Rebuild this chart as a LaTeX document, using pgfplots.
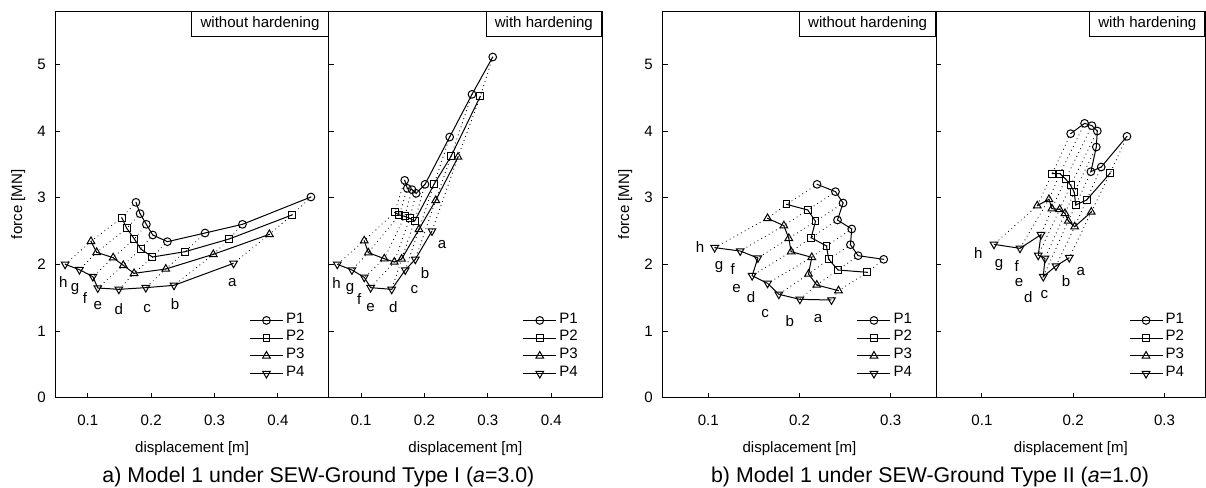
\documentclass[border=0pt]{standalone}
\usepackage{fontspec}
\setmainfont{Liberation Sans}
\usepackage{pgfplots}
\pgfplotsset{compat=1.18}
\usepackage{pgfplotstable}

\newcommand{\tf}{\fontsize{11.3pt}{13pt}\selectfont}
\newcommand{\capf}{\fontsize{16pt}{19pt}\selectfont}

% rows a..h ; columns P1..P4
\pgfplotstableread{
x1 y1 x2 y2 x3 y3 x4 y4
0.452 3.01 0.422 2.74 0.3865 2.45 0.330 2.015
0.344 2.60 0.323 2.38 0.298 2.15 0.236 1.685
0.285 2.47 0.2535 2.19 0.223 1.93 0.1915 1.65
0.2256 2.34 0.202 2.11 0.173 1.865 0.149 1.625
0.2025 2.44 0.1836 2.23 0.156 1.985 0.1158 1.645
0.1924 2.60 0.1735 2.38 0.140 2.10 0.108 1.815
0.1825 2.76 0.1615 2.54 0.114 2.18 0.0868 1.92
0.176 2.93 0.1536 2.70 0.105 2.345 0.0642 2.0
}\dataAL
\pgfplotstableread{
x y l
0.328 1.725 a
0.2377 1.405 b
0.1935 1.335 c
0.149 1.335 d
0.116 1.375 e
0.0957 1.49 f
0.080 1.625 g
0.0615 1.74 h
}\labAL

\pgfplotstableread{
x1 y1 x2 y2 x3 y3 x4 y4
0.3077 5.11 0.2881 4.52 0.253 3.61 0.2119 2.50
0.275 4.55 0.2419 3.62 0.2178 2.96 0.1856 2.075
0.2398 3.91 0.2151 3.20 0.1914 2.525 0.1698 1.915
0.2009 3.20 0.1846 2.65 0.164 2.08 0.1484 1.625
0.187 3.065 0.1768 2.69 0.1525 2.035 0.1152 1.65
0.1804 3.12 0.1689 2.72 0.1367 2.085 0.1051 1.805
0.173 3.14 0.1604 2.74 0.1115 2.175 0.0857 1.915
0.1689 3.26 0.1531 2.78 0.1051 2.355 0.0626 2.0
}\dataAR
\pgfplotstableread{
x y l
0.2277 2.29 a
0.2009 1.875 b
0.184 1.615 c
0.1509 1.355 d
0.1152 1.355 e
0.0973 1.475 f
0.0826 1.625 g
0.0616 1.725 h
}\labAR

\pgfplotstableread{
x1 y1 x2 y2 x3 y3 x4 y4
0.2924 2.075 0.2745 1.88 0.2428 1.605 0.2351 1.465
0.2643 2.13 0.2423 1.915 0.219 1.69 0.2004 1.475
0.2559 2.295 0.2321 2.075 0.2099 1.855 0.1774 1.55
0.2573 2.53 0.2296 2.275 0.2135 2.105 0.165 1.715
0.2417 2.665 0.2128 2.40 0.1909 2.19 0.1481 1.83
0.2478 2.92 0.2176 2.645 0.1883 2.39 0.1544 2.095
0.2395 3.09 0.2091 2.815 0.1829 2.58 0.135 2.20
0.2193 3.20 0.1858 2.90 0.165 2.69 0.107 2.25
}\dataBL
\pgfplotstableread{
x y l
0.2204 1.19 a
0.1894 1.155 b
0.1624 1.265 c
0.147 1.515 d
0.131 1.64 e
0.1267 1.935 f
0.1117 1.965 g
0.0909 2.265 h
}\labBL

\pgfplotstableread{
x1 y1 x2 y2 x3 y3 x4 y4
0.2589 3.92 0.2406 3.37 0.2198 2.785 0.1957 2.10
0.2307 3.46 0.2147 2.965 0.2016 2.565 0.1811 1.975
0.2194 3.39 0.2027 2.89 0.1946 2.65 0.1672 1.815
0.2253 3.76 0.2012 3.08 0.191 2.765 0.1691 2.09
0.2264 4.00 0.1972 3.185 0.1852 2.825 0.1617 2.135
0.2205 4.08 0.1917 3.28 0.1767 2.835 0.1647 2.445
0.2125 4.115 0.1855 3.36 0.1734 2.975 0.1417 2.24
0.1972 3.96 0.177 3.36 0.1606 2.88 0.1132 2.30
}\dataBR
\pgfplotstableread{
x y l
0.2082 1.89 a
0.1921 1.75 b
0.1683 1.54 c
0.1508 1.515 d
0.1406 1.725 e
0.138 1.98 f
0.1187 1.99 g
0.096 2.175 h
}\labBR

\pgfplotsset{
  panel/.style={
    scale only axis, width=205pt, height=290pt,
    ymin=0, ymax=5.8, ytick={0,1,2,3,4,5},
    tick align=inside, tick pos=left,
    major tick length=3.75pt,
    axis line style={line width=0.75pt},
    every tick/.style={black, line width=0.75pt},
    /pgf/number format/assume math mode=true,
    tick label style={font=\tf},
    xticklabel style={anchor=center, yshift=-16.7pt},
    yticklabel style={anchor=center, xshift=-10.5pt},
    xlabel={displacement [m]},
    xlabel style={at={(axis description cs:0.5,0)}, anchor=center, yshift=-38pt, font=\tf},
    ylabel style={at={([xshift=-28pt]axis description cs:0,0.5)}, anchor=center, font=\tf},
    legend style={draw=none, fill=none, at={(0.71,0.2227)}, anchor=north west,
      inner sep=0pt, outer sep=0pt, row sep=0pt, font=\tf,
      nodes={inner ysep=0pt, inner xsep=2pt, text height=8.6pt, text depth=4.7pt}},
    legend cell align=left,
    legend image code/.code={\draw[mark repeat=2, mark phase=2, ##1] plot coordinates {(0pt,0pt) (12.4pt,0pt) (24.75pt,0pt)};},
  },
  s1/.style={black, line width=0.75pt, mark=o, mark size=2.9pt, mark options={solid, fill=white}},
  s2/.style={black, line width=0.75pt, mark=square, mark size=2.6pt, mark options={solid, fill=white}},
  s3/.style={black, line width=0.75pt, mark=triangle, mark size=3.3pt, mark options={solid, fill=white}},
  s4/.style={black, line width=0.75pt, mark=triangle, mark size=3.3pt, mark options={solid, fill=white, rotate=180}},
  dots/.style={black, line width=0.9pt, line cap=round, dash pattern=on 0.01pt off 3.2pt},
}

\newcommand{\panelplots}[2]{%
  \addplot[dots, forget plot, quiver={u=\thisrow{x2}-\thisrow{x1}, v=\thisrow{y2}-\thisrow{y1}}] table[x=x1,y=y1]{#1};
  \addplot[dots, forget plot, quiver={u=\thisrow{x3}-\thisrow{x2}, v=\thisrow{y3}-\thisrow{y2}}] table[x=x2,y=y2]{#1};
  \addplot[dots, forget plot, quiver={u=\thisrow{x4}-\thisrow{x3}, v=\thisrow{y4}-\thisrow{y3}}] table[x=x3,y=y3]{#1};
  \addplot[s1] table[x=x1,y=y1]{#1};
  \addplot[s2] table[x=x2,y=y2]{#1};
  \addplot[s3] table[x=x3,y=y3]{#1};
  \addplot[s4] table[x=x4,y=y4]{#1};
  \addplot[draw=none, mark=none, forget plot, nodes near coords, point meta=explicit symbolic,
    nodes near coords style={anchor=center, font=\tf, inner sep=0pt}] table[x=x,y=y,meta=l]{#2};
  \legend{P1,P2,P3,P4}
}

\begin{document}
\begin{tikzpicture}
\useasboundingbox (0,0) rectangle (904.5pt,365.25pt);

\begin{axis}[panel, at={(41.6pt,67pt)}, anchor=south west, width=204.9pt,
  xmin=0.049, xmax=0.48, xtick={0.1,0.2,0.3,0.4}, ylabel={force [MN]}]
  \panelplots{\dataAL}{\labAL}
  \node[draw, line width=0.75pt, fill=white, anchor=north east, font=\tf, inner xsep=6.5pt, minimum height=18.75pt] at (rel axis cs:1,1) {without hardening};
\end{axis}

\begin{axis}[panel, at={(246.5pt,67pt)}, anchor=south west, width=205pt,
  xmin=0.049, xmax=0.48, xtick={0.1,0.2,0.3,0.4}, yticklabels={}]
  \panelplots{\dataAR}{\labAR}
  \node[draw, line width=0.75pt, fill=white, anchor=north east, font=\tf, inner xsep=6.5pt, minimum height=18.75pt] at (rel axis cs:1,1) {with hardening};
\end{axis}

\begin{axis}[panel, at={(497pt,67pt)}, anchor=south west, width=205.2pt,
  xmin=0.05, xmax=0.35, xtick={0.1,0.2,0.3}, ylabel={force [MN]}]
  \panelplots{\dataBL}{\labBL}
  \node[draw, line width=0.75pt, fill=white, anchor=north east, font=\tf, inner xsep=6.5pt, minimum height=18.75pt] at (rel axis cs:1,1) {without hardening};
\end{axis}

\begin{axis}[panel, at={(702.2pt,67pt)}, anchor=south west, width=201.9pt,
  xmin=0.05, xmax=0.3449, xtick={0.1,0.2,0.3}, yticklabels={},
  legend style={at={(0.716,0.2227)}}]
  \panelplots{\dataBR}{\labBR}
  \node[draw, line width=0.75pt, fill=white, anchor=north east, font=\tf, inner xsep=6.5pt, minimum height=18.75pt] at (rel axis cs:1,1) {with hardening};
\end{axis}

\node[font=\capf, anchor=base] at (238.8pt,3.4pt) {a) Model 1 under SEW-Ground Type I (\textit{a}=3.0)};
\node[font=\capf, anchor=base] at (697.5pt,3.4pt) {b) Model 1 under SEW-Ground Type II (\textit{a}=1.0)};
\end{tikzpicture}
\end{document}
